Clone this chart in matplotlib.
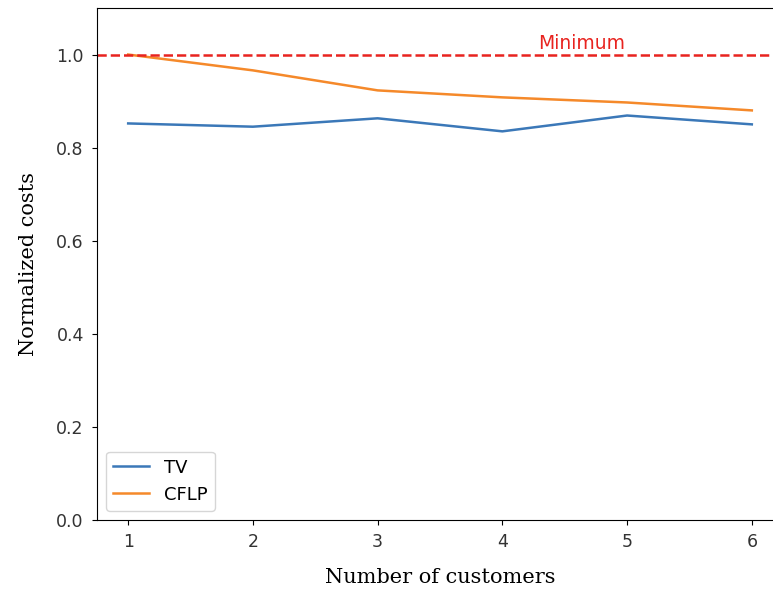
import matplotlib
matplotlib.use("Agg")
import matplotlib.pyplot as plt

customers = [1, 2, 3, 4, 5, 6]
tv = [0.852, 0.845, 0.863, 0.835, 0.869, 0.850]
cflp = [1.0, 0.966, 0.923, 0.908, 0.897, 0.880]
minimum = 1.0

fig = plt.figure(figsize=(7.73, 5.89), dpi=100)
ax = fig.add_axes([97/773, 69/589, 686/773, 512/589])
ax.plot(customers, tv, color='#3b78b8', lw=1.8, label='TV')
ax.plot(customers, cflp, color='#f5892a', lw=1.8, label='CFLP')
ax.axhline(minimum, color='#e8231f', ls='--', lw=1.8)
ax.text(4.29, minimum + 0.003, 'Minimum', color='#e8231f', fontsize=13.5, ha='left', va='bottom')
ax.set_ylim(0, 1.1)
ax.set_xlim(0.75, 6.25)
ax.set_xticks(customers)
ax.set_yticks([0.0, 0.2, 0.4, 0.6, 0.8, 1.0])
ax.spines['right'].set_visible(False)
ax.tick_params(labelsize=12.5, labelcolor='#333333', pad=6)
ax.set_xlabel('Number of customers', family='DejaVu Serif', fontsize=15, labelpad=12)
ax.set_ylabel('Normalized costs', family='DejaVu Serif', fontsize=15, labelpad=13)
ax.legend(loc='lower left', fontsize=13)
fig.savefig('out.png', dpi=100)
